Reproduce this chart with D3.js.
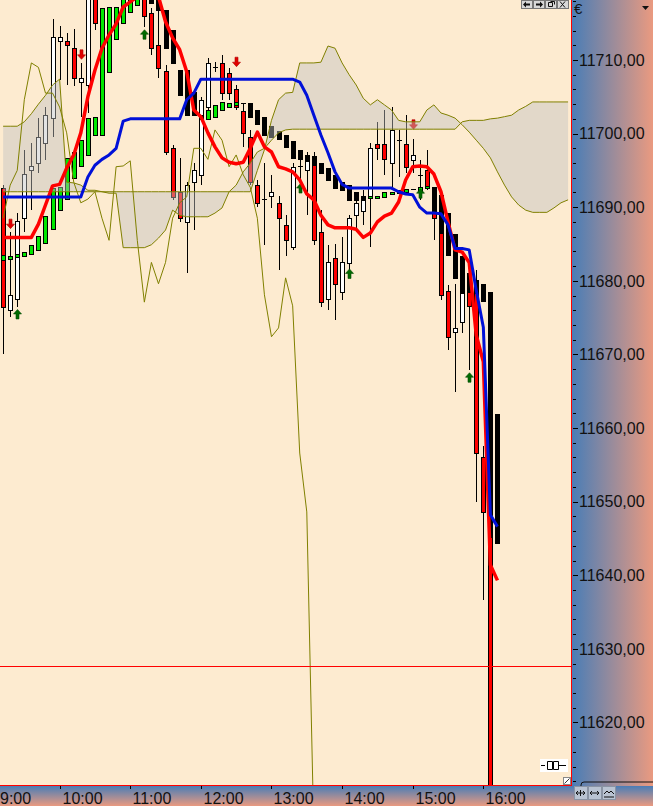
<!DOCTYPE html>
<html><head><meta charset="utf-8">
<script src="https://cdn.jsdelivr.net/npm/d3@7"></script>
<style>
html,body{margin:0;padding:0;background:#fff;}
svg{display:block;}
text{font-family:"Liberation Sans",Arial,sans-serif;}
</style></head><body>
<svg id="c" width="653" height="806"></svg>
<script>
// ---------------- DATA ----------------
const firstBar = [9, 12];          // time of first 6-minute bar
const barMinutes = 6;
// Regular candles (white = up, red = down); null = outside visible area
const rOpen  = [11692.6,11676.0,11677.5,11688.5,11695.0,11696.0,11698.7,11702.1,11712.6,11712.6,11711.6,11707.0,11706.6,11718.8,null,null,null,null,null,null,11718.8,11716.4,11712.0,11708.5,11698.0,11692.1,11688.0,11693.4,11694.4,11703.6,11709.0,11709.6,11708.2,11706.1,11703.1,11699.5,11693.0,11691.1,11691.5,11690.6,11687.6,11684.6,11695.6,11695.0,11697.0,11686.6,11677.5,11683.1,11678.5,11682.4,11688.9,11689.5,11691.2,11698.6,11698.6,11696.0,11699.1,11698.6,11696.4,11694.4,11695.1,11690.6,11686.5,11678.6,11673.0,11674.4,11681.0,11680.1,11656.1,11646.5];
const rHigh  = [11693.0,11686.6,11689.2,11697.8,11698.7,11702.1,11703.6,11715.6,11714.6,11713.7,11714.2,11709.6,11719.5,11720.2,null,null,null,null,null,null,11719.5,11717.1,11718.1,11709.3,11698.4,11696.7,11693.4,11696.0,11705.0,11710.3,11709.7,11710.7,11708.9,11706.6,11704.2,11700.5,11693.7,11696.0,11694.4,11691.5,11688.9,11696.0,11697.8,11697.5,11697.5,11689.6,11684.9,11685.0,11686.0,11689.0,11691.0,11692.4,11698.7,11701.6,11703.2,11703.6,11700.5,11702.5,11699.2,11696.4,11697.8,11692.3,11687.9,11679.4,11679.6,11681.4,11682.6,11681.4,11657.5,11647.5];
const rLow   = [11670.0,11675.1,11676.4,11686.6,11689.6,11694.6,11696.4,11699.5,11707.3,11706.6,11706.5,11702.3,11702.8,11714.1,null,null,null,null,null,null,11714.5,11710.7,11707.6,11697.1,11691.0,11688.0,11681.1,11686.9,11693.0,11702.5,11708.4,11704.6,11704.6,11703.2,11698.2,11693.0,11690.0,11684.9,11689.9,11681.5,11683.4,11684.2,11692.7,11689.0,11684.9,11676.4,11676.0,11674.7,11677.4,11680.8,11686.9,11687.6,11684.6,11696.4,11694.4,11692.3,11694.1,11694.6,11694.6,11691.0,11692.3,11685.5,11677.4,11670.6,11664.9,11672.9,11667.9,11649.9,11636.6,11600.0];
const rClose = [11676.4,11678.1,11688.1,11694.5,11695.6,11699.5,11702.5,11713.1,11713.1,11712.0,11707.6,11707.6,11718.4,11715.0,null,null,null,null,null,null,11716.0,11711.6,11708.9,11697.5,11691.4,11688.5,11693.0,11695.0,11704.6,11709.6,11709.0,11705.5,11705.5,11703.6,11700.1,11693.4,11690.6,11691.1,11692.1,11688.5,11685.5,11695.5,11695.6,11696.3,11685.5,11677.1,11682.5,11679.6,11682.5,11688.5,11690.6,11691.4,11698.0,11698.0,11696.5,11700.5,11699.1,11695.5,11697.1,11694.4,11692.7,11688.5,11678.1,11672.4,11673.6,11680.4,11676.6,11656.6,11648.6,11605.0];
// Heikin-Ashi style candles (green = up, black = down)
const haOpen  = [11682.8,11682.9,11683.2,11683.4,11683.6,11684.2,11685.1,11687.0,11689.6,11691.1,11694.0,11695.6,11697.1,11699.8,11699.8,11708.4,11712.8,11715.0,11716.5,11717.5,11718.4,11718.7,11718.4,11716.8,11714.1,11708.6,11708.6,11705.6,11702.5,11702.0,11702.3,11703.2,11703.6,11703.9,11704.2,11704.2,11703.2,11702.3,11701.0,11700.4,11699.8,11699.0,11697.8,11697.1,11696.8,11696.0,11695.3,11694.4,11693.4,11693.0,11692.1,11691.5,11691.2,11691.2,11691.4,11691.8,11691.9,11692.1,11692.5,11692.2,11692.6,11692.7,11691.7,11689.2,11686.4,11683.4,11680.9,11680.1,11679.6,11678.5,11661.9];
const haClose = [11683.5,11683.4,11683.6,11683.9,11684.9,11686.1,11688.8,11692.6,11692.7,11696.7,11697.5,11699.1,11702.1,11702.3,11717.1,11717.2,11717.2,11718.6,11718.6,11718.6,11719.0,11717.7,11716.8,11711.6,11709.6,11705.2,11702.5,11702.5,11702.0,11703.2,11703.9,11704.3,11704.2,11704.3,11704.2,11702.3,11701.3,11699.8,11699.5,11699.3,11698.2,11696.7,11696.5,11696.4,11695.7,11694.6,11693.7,11692.6,11692.3,11691.0,11691.0,11691.0,11691.5,11691.5,11692.1,11692.1,11692.3,11692.5,11692.5,11692.7,11692.9,11689.2,11686.5,11683.5,11680.4,11678.3,11678.5,11678.3,11677.2,11645.2,11644.4];
// Ichimoku lines (one value per bar)
const tenkan = [11685.9,11685.9,11685.9,11685.9,11685.9,11687.7,11690.3,11692.9,11693.1,11695.3,11697.1,11700.1,11705.0,11708.6,11711.6,11713.4,11714.9,11717.2,11717.9,11718.6,11718.6,11718.6,11718.6,11715.2,11713.0,11711.4,11708.4,11703.2,11702.3,11700.1,11698.2,11696.7,11696.1,11695.9,11696.1,11698.0,11700.2,11698.2,11697.5,11695.5,11695.2,11694.8,11693.7,11691.8,11691.0,11688.9,11687.6,11687.2,11687.2,11687.2,11687.0,11685.9,11686.5,11688.0,11688.8,11689.2,11690.7,11693.7,11695.5,11695.6,11695.5,11694.5,11692.1,11688.0,11684.2,11683.9,11682.5,11672.6,11669.0,11641.4,11639.3];
const kijun  = [11691.4,11691.4,11691.4,11691.4,11691.4,11691.4,11691.4,11691.4,11691.4,11691.4,11691.4,11691.4,11694.1,11695.7,11696.5,11697.1,11698.0,11701.7,11702.0,11702.0,11702.0,11702.0,11702.0,11702.0,11702.0,11702.0,11704.6,11705.5,11707.4,11707.4,11707.4,11707.4,11707.4,11707.4,11707.4,11707.4,11707.4,11707.4,11707.4,11707.4,11707.4,11707.4,11707.0,11705.2,11702.5,11699.8,11697.4,11694.8,11693.1,11692.6,11692.6,11692.6,11692.6,11692.6,11692.6,11692.6,11692.1,11691.8,11691.7,11690.0,11689.2,11689.2,11689.1,11687.6,11684.4,11684.4,11684.2,11678.7,11673.7,11648.2,11646.6];
const spanA  = [11701.0,11701.0,11701.0,11701.6,11702.7,11704.0,11705.2,11706.6,11707.4,11693.4,11693.3,11693.0,11692.3,11692.3,11692.1,11691.9,11691.9,11684.5,11684.5,11684.5,11684.5,11684.9,11685.8,11686.9,11689.6,11688.9,11688.7,11688.7,11688.7,11688.7,11689.2,11689.9,11692.1,11692.1,11692.1,11692.1,11695.0,11697.8,11701.8,11704.6,11705.5,11705.6,11709.6,11709.6,11709.6,11709.7,11711.9,11711.6,11709.6,11708.0,11706.6,11704.8,11703.9,11704.6,11703.9,11703.2,11701.8,11701.6,11701.6,11701.6,11703.2,11703.9,11702.8,11702.5,11702.1,11701.2,11700.2,11699.1,11698.0,11696.7,11694.8,11693.0,11691.4,11690.3,11689.6,11689.3,11689.3,11689.3,11689.9,11690.6,11691.0];
const spanB  = [11692.1,11692.1,11692.1,11692.1,11692.1,11692.1,11692.1,11692.1,11692.1,11692.1,11692.1,11692.1,11692.1,11692.1,11692.1,11692.1,11692.1,11692.1,11692.1,11692.1,11692.1,11692.1,11692.1,11692.1,11692.1,11692.1,11692.1,11692.1,11692.1,11692.1,11692.1,11692.1,11692.1,11693.0,11694.8,11696.0,11697.5,11698.0,11699.1,11700.1,11700.5,11700.6,11700.6,11700.6,11700.6,11700.6,11700.6,11700.6,11700.6,11700.6,11700.6,11700.6,11700.6,11700.6,11700.6,11700.6,11700.6,11700.6,11700.6,11700.6,11700.6,11700.6,11700.6,11700.6,11700.6,11701.6,11701.8,11701.8,11701.8,11702.0,11702.1,11702.3,11702.5,11703.2,11703.7,11704.3,11704.3,11704.3,11704.3,11704.3,11704.3];
const chikouShift = 25;            // lagging span: close plotted 25 bars back
// Signals
const sellBars = [1, 11, 33, 58];
const sellPrices = [11687.7, 11710.7, 11709.7, 11701.2];
const buyBars = [2, 20, 42, 49, 59, 66];
const buyPrices = [11675.5, 11713.5, 11692.6, 11681.0, 11691.9, 11666.9];
// Axes
const hourLabels = ["9:00","10:00","11:00","12:00","13:00","14:00","15:00","16:00"];
const priceTicks = [11620,11630,11640,11650,11660,11670,11680,11690,11700,11710];
const hLinePrice = 11627.7;
const yDomain = [11611.5, 11718.15];

// ---------------- DRAW ----------------
const W = 653, H = 806, PW = 571, PH = 785;
const svg = d3.select("#c");
const day = (h, m, s) => new Date(2020, 0, 1, h, m, s || 0);
const barTime = i => new Date(day(firstBar[0], firstBar[1]).getTime() + i * barMinutes * 60000);
const x = d3.scaleTime().domain([day(9, 9, 21), day(17, 14, 29)]).range([0, PW]);
const y = d3.scaleLinear().domain(yDomain).range([PH, 0]);
const bx = i => Math.round(x(barTime(i)));

const defs = svg.append("defs");
const gH = defs.append("linearGradient").attr("id", "gh").attr("x1", 0).attr("x2", 1).attr("y1", 0).attr("y2", 0);
gH.append("stop").attr("offset", 0).attr("stop-color", "#4a7db6");
gH.append("stop").attr("offset", 1).attr("stop-color", "#ea9a80");
const gV = defs.append("linearGradient").attr("id", "gv").attr("x1", 0).attr("x2", 0).attr("y1", 0).attr("y2", 1);
gV.append("stop").attr("offset", 0).attr("stop-color", "#4a7db6");
gV.append("stop").attr("offset", 1).attr("stop-color", "#ea9a80");
defs.append("clipPath").attr("id", "clip").append("rect").attr("x", 0).attr("y", 0).attr("width", PW).attr("height", PH);

svg.append("rect").attr("x", 0).attr("y", 0).attr("width", PW).attr("height", PH).attr("fill", "#fdebd0");

const plot = svg.append("g").attr("clip-path", "url(#clip)");

// regular candles
const rg = plot.append("g").attr("shape-rendering", "crispEdges");
rOpen.forEach((o, i) => {
  if (o == null) return;
  const cx = bx(i);
  rg.append("line").attr("x1", cx + 0.5).attr("x2", cx + 0.5)
    .attr("y1", y(rHigh[i])).attr("y2", y(rLow[i])).attr("stroke", "#000");
  const c = rClose[i];
  if (o === c) {
    rg.append("line").attr("x1", cx - 2).attr("x2", cx + 3)
      .attr("y1", Math.round(y(o)) + 0.5).attr("y2", Math.round(y(o)) + 0.5).attr("stroke", "#000");
  } else {
    const top = Math.round(y(Math.max(o, c))), bot = Math.round(y(Math.min(o, c)));
    rg.append("rect").attr("x", cx - 1.5).attr("width", 4)
      .attr("y", top + 0.5).attr("height", Math.max(1, bot - top))
      .attr("fill", c > o ? "#ffffff" : "#ff0000").attr("stroke", "#000");
  }
});

// HA candles on top
const hg = plot.append("g").attr("shape-rendering", "crispEdges");
haOpen.forEach((o, i) => {
  const c = haClose[i];
  const cx = bx(i);
  if (o === c) {
    hg.append("line").attr("x1", cx - 2).attr("x2", cx + 3)
      .attr("y1", Math.round(y(o)) + 0.5).attr("y2", Math.round(y(o)) + 0.5).attr("stroke", "#000");
    return;
  }
  const top = Math.round(y(Math.max(o, c))), bot = Math.round(y(Math.min(o, c)));
  hg.append("rect").attr("x", cx - 1.5).attr("width", 4)
    .attr("y", top + 0.5).attr("height", Math.max(1, bot - top))
    .attr("fill", c > o ? "#00e800" : "#000000").attr("stroke", "#000");
});

// signal arrows
const ag = plot.append("g");
sellBars.forEach((b, i) => {
  const cx = bx(b) + 0.5, cy = y(sellPrices[i]);
  ag.append("path").attr("d", `M${cx-1.5},${cy-5}h3v5h2.5l-4,4.5l-4,-4.5h2.5z`)
    .attr("fill", "#e00000").attr("stroke", "#b00000").attr("stroke-width", 0.6);
});
buyBars.forEach((b, i) => {
  const cx = bx(b) + 0.5, cy = y(buyPrices[i]);
  ag.append("path").attr("d", `M${cx-1.5},${cy+5}h3v-5h2.5l-4,-4.5l-4,4.5h2.5z`)
    .attr("fill", "#006a00").attr("stroke", "#004a00").attr("stroke-width", 0.6);
});

// cloud
const area = d3.area().x((d, i) => x(barTime(i))).y0((d, i) => y(spanB[i])).y1(d => y(d));
plot.append("path").datum(spanA).attr("d", area).attr("fill", "#c0c0c0").attr("fill-opacity", 0.45);
const line = d3.line().x((d, i) => x(barTime(i))).y(d => y(d)).defined(d => d != null);
plot.append("path").datum(spanA).attr("d", line).attr("fill", "none").attr("stroke", "#808000").attr("stroke-width", 1);
plot.append("path").datum(spanB).attr("d", line).attr("fill", "none").attr("stroke", "#808000").attr("stroke-width", 1);
// lagging span from closes
const chikou = rClose.slice(chikouShift);
plot.append("path").datum(chikou).attr("d", line).attr("fill", "none").attr("stroke", "#808000").attr("stroke-width", 1);

plot.append("path").datum(tenkan).attr("d", line).attr("fill", "none").attr("stroke", "#ff0000")
  .attr("stroke-width", 3.5).attr("stroke-linejoin", "round");
plot.append("path").datum(kijun).attr("d", line).attr("fill", "none").attr("stroke", "#0010d8")
  .attr("stroke-width", 3).attr("stroke-linejoin", "round");

plot.append("line").attr("x1", 0).attr("x2", PW).attr("y1", Math.round(y(hLinePrice)) + 0.5).attr("y2", Math.round(y(hLinePrice)) + 0.5)
  .attr("stroke", "#ff0000").attr("stroke-width", 1);

// small icons inside plot
const ic = svg.append("g");
ic.append("rect").attr("x", 540).attr("y", 759).attr("width", 28).attr("height", 13).attr("fill", "#fff");
ic.append("path").attr("d", "M541,765.5h4M547.5,761.5h5v8h-5zM553.5,761.5h5v8h-5zM559,765.5h7")
  .attr("fill", "none").attr("stroke", "#000").attr("stroke-width", 1);
ic.append("rect").attr("x", 563.5).attr("y", 777.5).attr("width", 7).attr("height", 7).attr("fill", "#fff").attr("stroke", "#888");
ic.append("path").attr("d", "M564.5,783.5L569.5,778.5").attr("stroke", "#333");

// right axis panel
svg.append("rect").attr("x", PW + 1).attr("y", 0).attr("width", W - PW - 1).attr("height", PH + 1).attr("fill", "url(#gh)");
// bottom panel
svg.append("rect").attr("x", 0).attr("y", PH + 1).attr("width", W).attr("height", H - PH - 1).attr("fill", "url(#gv)");
// borders
svg.append("line").attr("x1", PW + 0.5).attr("x2", PW + 0.5).attr("y1", 0).attr("y2", PH + 1).attr("stroke", "#ff0000");
svg.append("line").attr("x1", 0).attr("x2", PW + 1).attr("y1", PH + 0.5).attr("y2", PH + 0.5).attr("stroke", "#ff0000");

// y axis ticks
const ax = svg.append("g").attr("shape-rendering", "crispEdges");
const minor = d3.range(Math.ceil(yDomain[0] / 2) * 2, yDomain[1], 2);
minor.forEach(v => {
  const yy = Math.round(y(v)) + 0.5;
  ax.append("line").attr("x1", PW + 2).attr("x2", PW + 5).attr("y1", yy).attr("y2", yy).attr("stroke", "#000");
});
priceTicks.forEach(v => {
  const yy = Math.round(y(v)) + 0.5;
  ax.append("line").attr("x1", PW + 2).attr("x2", PW + 7).attr("y1", yy).attr("y2", yy).attr("stroke", "#000");
  svg.append("text").attr("x", PW + 8).attr("y", y(v)).attr("dy", "0.36em")
    .attr("font-size", 16).attr("fill", "#111").text(d3.format(".2f")(v).replace(".", ","));
});
svg.append("text").attr("x", 574).attr("y", 14).attr("font-size", 15).attr("fill", "#111").text("€");
svg.append("path").attr("d", "M642,6h7l-3.5,4z").attr("fill", "#111");
svg.append("path").attr("d", "M581,786v-1q0,-3 3,-3H653").attr("fill", "none").attr("stroke", "#111");

// x axis
hourLabels.forEach((lab, i) => {
  const tx = Math.round(x(day(9 + i, 0))) + 0.5;
  ax.append("line").attr("x1", tx).attr("x2", tx).attr("y1", PH + 1).attr("y2", PH + 4).attr("stroke", "#000");
  svg.append("text").attr("x", Math.max(0, tx + 2)).attr("y", 804).attr("font-size", 16).attr("fill", "#111").text(lab);
});

// top buttons
const tb = svg.append("g");
[521, 533, 545, 557].forEach((bxp, i) => {
  tb.append("rect").attr("x", bxp + 0.5).attr("y", 0.5).attr("width", 11).attr("height", 8).attr("fill", "#d8d8d8").attr("stroke", "#777");
});
tb.append("path").attr("d", "M523,4.5l3,-3v2h4v2h-4v2z").attr("fill", "#111");
tb.append("path").attr("d", "M543,4.5l-3,-3v2h-4v2h4v2z").attr("fill", "#111");
tb.append("path").attr("d", "M548.5,2.5h4v4h-4zM550.5,1.5h4v3").attr("fill", "none").attr("stroke", "#111");
tb.append("path").attr("d", "M560,1.5l5,6M565,1.5l-5,6").attr("stroke", "#111");
// bottom-right buttons
const bb = svg.append("g");
[574, 588, 602].forEach(bxp => {
  bb.append("rect").attr("x", bxp + 0.5).attr("y", 786.5).attr("width", 13).attr("height", 13).attr("fill", "#b9c3d2").attr("stroke", "#8a94a4");
});
bb.append("path").attr("d", "M576,793h9M578,791l-2,2l2,2M583,791l2,2l-2,2M580.5,790v6").attr("fill", "none").attr("stroke", "#111");
bb.append("path").attr("d", "M590,793h9M592,791l-2,2l2,2M597,791l2,2l-2,2").attr("fill", "none").attr("stroke", "#111");
bb.append("path").attr("d", "M604,794l3,-3l2,2l2,-2l3,3M604,797h10").attr("fill", "none").attr("stroke", "#111");
</script>
</body></html>
